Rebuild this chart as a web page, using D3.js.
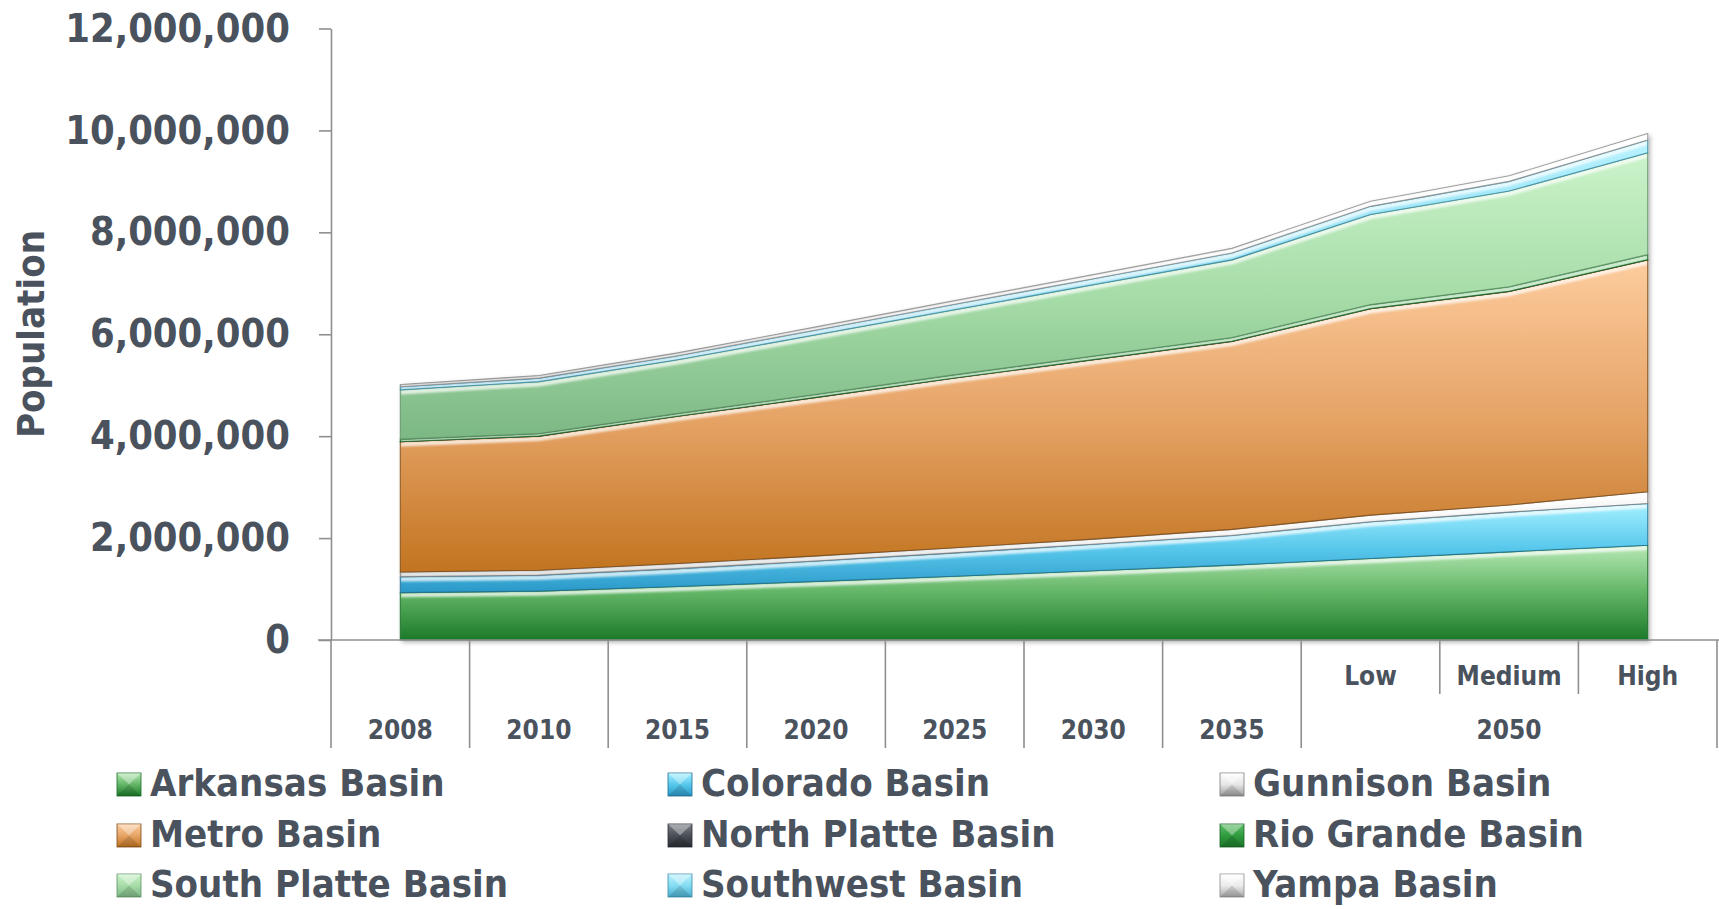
<!DOCTYPE html>
<html>
<head>
<meta charset="utf-8">
<script src="https://cdn.jsdelivr.net/npm/d3@7"></script>
<style>
  html, body { margin: 0; padding: 0; background: #ffffff; }
  svg { display: block; }
</style>
</head>
<body>
<svg id="chart" width="1719" height="909"></svg>
<script>
// ---------------- DATA ----------------
const categories = ["2008", "2010", "2015", "2020", "2025", "2030", "2035", "Low", "Medium", "High"];
const groupLabel = "2050";          // spans the Low / Medium / High scenarios
const groupStart = 7;               // index where the 2050 scenarios begin
const seriesNames = ["Arkansas Basin", "Colorado Basin", "Gunnison Basin", "Metro Basin",
  "North Platte Basin", "Rio Grande Basin", "South Platte Basin", "Southwest Basin", "Yampa Basin"];

const arkansas    = [930000, 960000, 1050000, 1150000, 1250000, 1360000, 1470000, 1600000, 1730000, 1860000];
const colorado    = [310000, 310000, 350000, 400000, 460000, 520000, 580000, 720000, 780000, 820000];
const gunnison    = [95000, 100000, 100000, 100000, 100000, 100000, 120000, 130000, 140000, 230000];
const metro       = [2555000, 2630000, 2890000, 3110000, 3330000, 3520000, 3690000, 4050000, 4190000, 4550000];
const northPlatte = [1500, 1500, 1600, 1700, 1800, 1900, 2000, 2100, 2200, 2400];
const rioGrande   = [50000, 50000, 55000, 60000, 65000, 70000, 75000, 80000, 90000, 100000];
const southPlatte = [968000, 1018000, 1053000, 1168000, 1273000, 1398000, 1523000, 1768000, 1878000, 1998000];
const southwest   = [60000, 70000, 80000, 95000, 110000, 120000, 135000, 160000, 190000, 250000];
const yampa       = [45000, 50000, 55000, 60000, 70000, 80000, 90000, 100000, 110000, 130000];

const yTicks = [0, 2000000, 4000000, 6000000, 8000000, 10000000, 12000000];
const yLabel = "Population";

// ---------------- STYLE ----------------
const seriesValues = [arkansas, colorado, gunnison, metro, northPlatte, rioGrande, southPlatte, southwest, yampa];
const palette = [
  { top: "#b6e8b4", mid: "#62b566", bot: "#1b7a29", edge: "#1a6a25" },   // Arkansas
  { top: "#a4f0ff", mid: "#58c8ec", bot: "#2a98c8", edge: "#1f6f92" },   // Colorado
  { top: "#ffffff", mid: "#e6e6e6", bot: "#9c9c9c", edge: "#7a7a7a" },   // Gunnison
  { top: "#fdcc9e", mid: "#e6a467", bot: "#c27420", edge: "#7a4a18" },   // Metro
  { top: "#7a7f88", mid: "#4a4f58", bot: "#2a2e35", edge: "#2a2e35" },   // North Platte
  { top: "#5fbf6a", mid: "#2f9a3e", bot: "#1d7a2b", edge: "#1a6325" },   // Rio Grande
  { top: "#cbf3ca", mid: "#a6dca8", bot: "#7cb884", edge: "#5f8f66" },   // South Platte
  { top: "#b9f2ff", mid: "#86dcf2", bot: "#4aaed0", edge: "#3a8aa8" },   // Southwest
  { top: "#ffffff", mid: "#ececec", bot: "#a8a8a8", edge: "#8a8a8a" }    // Yampa
];
const textColor = "#4a525d";
const axisColor = "#8f8f8f";
const fontFam = "'DejaVu Sans Condensed', 'DejaVu Sans', sans-serif";

// ---------------- LAYOUT ----------------
const svg = d3.select("#chart");
const xLeft = 331, xRight = 1717, yBottom = 640, yTop = 28.5;

const x = d3.scaleBand().domain(categories).range([xLeft, xRight]).paddingInner(0).paddingOuter(0);
const cx = d => x(d) + x.bandwidth() / 2;
const y = d3.scaleLinear().domain([0, 12000000]).range([yBottom, yTop]);

const table = categories.map((c, i) => {
  const row = { cat: c };
  seriesNames.forEach((s, k) => row[s] = seriesValues[k][i]);
  return row;
});
const stacked = d3.stack().keys(seriesNames)(table);

const defs = svg.append("defs");
palette.forEach((p, i) => {
  const g = defs.append("linearGradient").attr("id", "grad" + i)
    .attr("x1", 0).attr("y1", 0).attr("x2", 0).attr("y2", 1);
  g.append("stop").attr("offset", "0%").attr("stop-color", p.top);
  g.append("stop").attr("offset", "50%").attr("stop-color", p.mid);
  g.append("stop").attr("offset", "100%").attr("stop-color", p.bot);
});
const blur = defs.append("filter").attr("id", "soft").attr("x", "-5%").attr("y", "-50%").attr("width", "110%").attr("height", "200%");
blur.append("feGaussianBlur").attr("stdDeviation", 1.3);
const shadow = defs.append("filter").attr("id", "shadow").attr("x", "-5%").attr("y", "-5%").attr("width", "110%").attr("height", "110%");
shadow.append("feDropShadow").attr("dx", 2).attr("dy", 2).attr("stdDeviation", 2)
  .attr("flood-color", "#000").attr("flood-opacity", 0.3);

const area = d3.area().x(d => cx(d.data.cat)).y0(d => y(d[0])).y1(d => y(d[1]));
const topLine = d3.line().x(d => cx(d.data.cat)).y(d => y(d[1]));
const leftEdge = s => `M${cx(categories[0])},${y(s[0][0])}L${cx(categories[0])},${y(s[0][1])}`;

// ---------------- AXES ----------------
const yAxis = d3.axisLeft(y).tickValues(yTicks).tickFormat(d3.format(",")).tickSize(12).tickSizeOuter(0).tickPadding(29);
const yg = svg.append("g").attr("transform", `translate(${xLeft},0)`).call(yAxis);
yg.select(".domain").attr("stroke", axisColor).attr("stroke-width", 1.6);
yg.selectAll(".tick line").attr("stroke", axisColor).attr("stroke-width", 1.6);
yg.selectAll(".tick text").attr("fill", textColor).attr("font-family", fontFam)
  .attr("font-weight", 700).attr("font-size", 39.5);

svg.append("text").attr("transform", `translate(31,334) rotate(-90)`)
  .attr("text-anchor", "middle").attr("dominant-baseline", "central")
  .attr("fill", textColor).attr("font-family", fontFam).attr("font-weight", 700).attr("font-size", 38)
  .text(yLabel);

// ---------------- AREAS ----------------
const areaG = svg.append("g").attr("filter", "url(#shadow)");
stacked.forEach((s, i) => {
  const p = palette[i];
  const g = areaG.append("g");
  const clipId = "clip" + i;
  defs.append("clipPath").attr("id", clipId).append("path").attr("d", area(s));
  g.append("path").attr("d", area(s)).attr("fill", `url(#grad${i})`);
  const hl = g.append("g").attr("clip-path", `url(#${clipId})`);
  hl.append("path").attr("d", topLine(s)).attr("transform", "translate(0,2.5)")
    .attr("fill", "none").attr("stroke", "#ffffff").attr("stroke-opacity", 0.75)
    .attr("stroke-width", 4.5).attr("filter", "url(#soft)");
  hl.append("path").attr("d", leftEdge(s)).attr("transform", "translate(2.5,0)")
    .attr("fill", "none").attr("stroke", "#ffffff").attr("stroke-opacity", 0.35)
    .attr("stroke-width", 4).attr("filter", "url(#soft)");
  g.append("path").attr("d", area(s)).attr("fill", "none")
    .attr("stroke", p.edge).attr("stroke-opacity", 0.8).attr("stroke-width", 1.1);
});

// x axis line and category dividers
svg.append("line").attr("x1", 318).attr("x2", 1719).attr("y1", yBottom).attr("y2", yBottom)
  .attr("stroke", axisColor).attr("stroke-width", 1.6);
const boundaries = d3.range(categories.length + 1);
svg.append("g").selectAll("line").data(boundaries).join("line")
  .attr("x1", k => xLeft + k * x.bandwidth()).attr("x2", k => xLeft + k * x.bandwidth())
  .attr("y1", yBottom)
  .attr("y2", k => (k > groupStart && k < categories.length) ? 694 : 748)
  .attr("stroke", axisColor).attr("stroke-width", 1.6);

const xText = sel => sel.attr("fill", textColor).attr("font-family", fontFam)
  .attr("font-weight", 700).attr("font-size", 26).attr("text-anchor", "middle");
svg.append("g").selectAll("text").data(categories).join("text")
  .attr("x", d => cx(d))
  .attr("y", (d, i) => i >= groupStart ? 685 : 739)
  .call(xText).text(d => d);
svg.append("text")
  .attr("x", (x(categories[groupStart]) + x(categories[categories.length - 1]) + x.bandwidth()) / 2)
  .attr("y", 739).call(xText).text(groupLabel);

// ---------------- LEGEND ----------------
const legCols = [117, 668, 1220];
const legRows = [796, 847, 897];
const lg = svg.append("g").selectAll("g").data(seriesNames).join("g")
  .attr("transform", (d, i) => `translate(${legCols[i % 3]},${legRows[Math.floor(i / 3)]})`);
const sw = 24, sh = 23;
lg.append("rect").attr("x", 0).attr("y", -sh).attr("width", sw).attr("height", sh)
  .attr("fill", (d, i) => `url(#grad${i})`)
  .attr("stroke", (d, i) => palette[i].edge).attr("stroke-width", 0.8);
lg.append("path").attr("d", `M0,${-sh}L${sw},${-sh}L${sw / 2},${-sh / 2}Z`)
  .attr("fill", "#ffffff").attr("fill-opacity", 0.35);
lg.append("path").attr("d", `M0,0L${sw},0L${sw / 2},${-sh / 2}Z`)
  .attr("fill", "#000000").attr("fill-opacity", 0.12);
lg.append("text").attr("x", 33).attr("y", 0)
  .attr("fill", textColor).attr("font-family", fontFam).attr("font-weight", 700).attr("font-size", 38)
  .text(d => d);
</script>
</body>
</html>
